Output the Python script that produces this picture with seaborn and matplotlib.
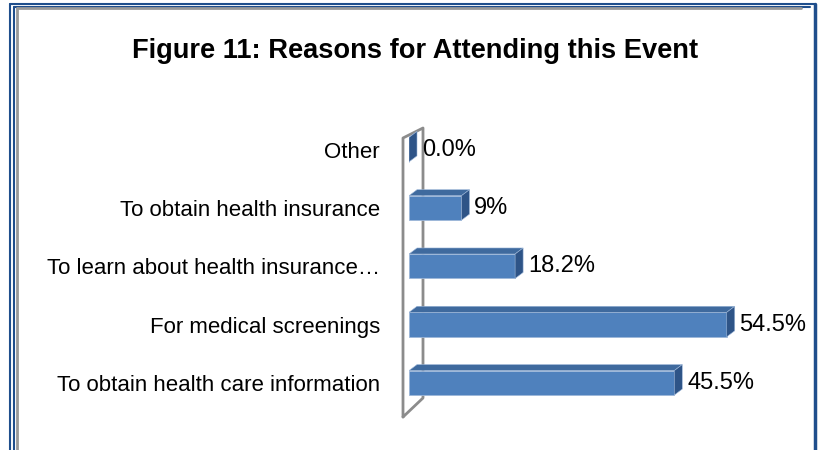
import matplotlib
matplotlib.use("Agg")
import matplotlib.pyplot as plt
import seaborn as sns
import pandas as pd
from matplotlib.patches import Polygon
from matplotlib.lines import Line2D

categories = ["Other", "To obtain health insurance", "To learn about health insurance…",
              "For medical screenings", "To obtain health care information"]
values = [0.0, 9.0, 18.2, 54.5, 45.5]
value_labels = ["0.0%", "9%", "18.2%", "54.5%", "45.5%"]
title = "Figure 11: Reasons for Attending this Event"

df = pd.DataFrame({"reason": categories, "pct": values})

sns.set_theme(style="white")
plt.rcParams["font.family"] = ["Liberation Sans", "DejaVu Sans"]

W, H = 821, 450
fig = plt.figure(figsize=(W / 100, H / 100), dpi=100)

def fx(px):
    return px / W

def fy(py):
    return 1 - py / H

ax_left, ax_right, ax_top, ax_bot = 409, 790, 150 - 0.5 * 58 - 0.5, 383 + 0.5 * 58
ax = fig.add_axes([fx(ax_left), fy(ax_bot), fx(ax_right) - fx(ax_left), fy(ax_top) - fy(ax_bot)])

front = "#4F81BD"
top_c = "#3F6A9E"
side_c = "#2E5487"

sns.barplot(data=df, y="reason", x="pct", orient="h", color=front, width=0.42,
            saturation=1, ax=ax, edgecolor="#9DB7D9", linewidth=0.6)

xmax = (ax_right - ax_left) / 5.83
ax.set_xlim(0, xmax)
ax.set_ylim(4.5, -0.5)

# 3D depth effect derived from bar geometry
dx = 8 / 5.83
dy = 6 / 58
for p in list(ax.patches):
    x0 = p.get_x()
    w = p.get_width()
    y0 = p.get_y()
    h = p.get_height()
    ytop = y0  # inverted axis: smaller y is visually top
    top = Polygon([(x0, ytop), (x0 + w, ytop), (x0 + w + dx, ytop - dy), (x0 + dx, ytop - dy)],
                  closed=True, facecolor=top_c, edgecolor="#9DB7D9", linewidth=0.4, zorder=3)
    side = Polygon([(x0 + w, ytop), (x0 + w + dx, ytop - dy), (x0 + w + dx, ytop + h - dy), (x0 + w, ytop + h)],
                   closed=True, facecolor=side_c, edgecolor="#9DB7D9", linewidth=0.4, zorder=3)
    ax.add_patch(top)
    ax.add_patch(side)

for i, (v, lab) in enumerate(zip(values, value_labels)):
    ax.annotate(lab, xy=(v + dx, i), xytext=(3.5, 0), textcoords="offset points",
                ha="left", va="center", fontsize=17, color="#000000")

ax.set_xlabel("")
ax.set_ylabel("")
ax.set_xticks([])
ax.tick_params(axis="y", length=0, pad=21, labelsize=16, labelcolor="#000000")
for s in ax.spines.values():
    s.set_visible(False)
ax.patch.set_alpha(0)

# 3D wall outline
wall = [(403, 417), (403, 138), (423, 128), (423, 398), (403, 417)]
fig.add_artist(Line2D([fx(p[0]) for p in wall], [fy(p[1]) for p in wall],
                      transform=fig.transFigure, color="#8C8C8C", linewidth=2.0, zorder=0))

# Title
fig.text(fx(415), fy(51), title, ha="center", va="center", fontsize=19.6, fontweight="bold", color="#000000")

# Frame borders
blue = "#1F4E8C"
gray = "#999999"
lw = 1.5
fig.add_artist(Line2D([fx(10), fx(10)], [fy(4), fy(450)], transform=fig.transFigure, color=blue, lw=lw))
fig.add_artist(Line2D([fx(13.5), fx(13.5)], [fy(7), fy(450)], transform=fig.transFigure, color=blue, lw=lw))
fig.add_artist(Line2D([fx(10), fx(815)], [fy(4), fy(4)], transform=fig.transFigure, color=blue, lw=lw))
fig.add_artist(Line2D([fx(13.5), fx(810)], [fy(7), fy(7)], transform=fig.transFigure, color=blue, lw=lw))
fig.add_artist(Line2D([fx(17), fx(17)], [fy(8), fy(450)], transform=fig.transFigure, color=gray, lw=2))
fig.add_artist(Line2D([fx(17), fx(801)], [fy(8), fy(8)], transform=fig.transFigure, color=gray, lw=2))
fig.add_artist(Line2D([fx(814.5), fx(814.5)], [fy(4), fy(450)], transform=fig.transFigure, color=blue, lw=2.5))

fig.savefig("out.png", dpi=100)
